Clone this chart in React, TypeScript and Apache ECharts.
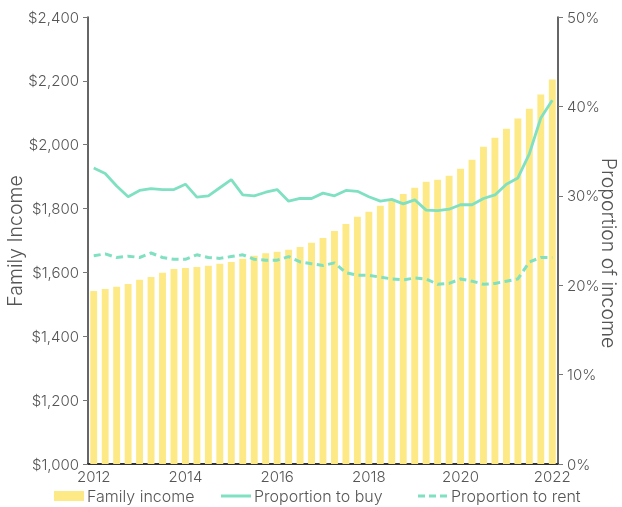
import React, { useEffect, useRef } from "react";
import * as echarts from "echarts";

const categories = [
  "2012 Q1", "2012 Q2", "2012 Q3", "2012 Q4",
  "2013 Q1", "2013 Q2", "2013 Q3", "2013 Q4",
  "2014 Q1", "2014 Q2", "2014 Q3", "2014 Q4",
  "2015 Q1", "2015 Q2", "2015 Q3", "2015 Q4",
  "2016 Q1", "2016 Q2", "2016 Q3", "2016 Q4",
  "2017 Q1", "2017 Q2", "2017 Q3", "2017 Q4",
  "2018 Q1", "2018 Q2", "2018 Q3", "2018 Q4",
  "2019 Q1", "2019 Q2", "2019 Q3", "2019 Q4",
  "2020 Q1", "2020 Q2", "2020 Q3", "2020 Q4",
  "2021 Q1", "2021 Q2", "2021 Q3", "2021 Q4",
  "2022 Q1",
];

const familyIncome = [
  1542, 1548, 1555, 1564, 1577, 1586, 1599, 1611, 1614, 1617,
  1621, 1627, 1633, 1643, 1652, 1660, 1665, 1671, 1680, 1693,
  1708, 1730, 1752, 1774, 1790, 1809, 1824, 1846, 1865, 1884,
  1890, 1903, 1925, 1953, 1994, 2022, 2050, 2082, 2113, 2157,
  2204,
];

const proportionToBuy = [
  33.1, 32.5, 31.1, 29.9, 30.6, 30.8, 30.7, 30.7, 31.3, 29.85,
  30.0, 30.9, 31.8, 30.1, 30.0, 30.4, 30.7, 29.4, 29.7, 29.7,
  30.3, 30.0, 30.6, 30.5, 29.9, 29.4, 29.6, 29.1, 29.55, 28.4,
  28.35, 28.5, 29.0, 29.0, 29.7, 30.1, 31.3, 32.0, 34.7, 38.7,
  40.7,
];

const proportionToRent = [
  23.3, 23.5, 23.1, 23.25, 23.1, 23.6, 23.1, 22.9, 22.9, 23.4,
  23.1, 23.0, 23.2, 23.4, 22.9, 22.8, 22.8, 23.2, 22.6, 22.4,
  22.2, 22.5, 21.4, 21.1, 21.1, 20.9, 20.7, 20.6, 20.8, 20.7,
  20.1, 20.2, 20.7, 20.45, 20.1, 20.2, 20.45, 20.7, 22.6, 23.1,
  23.1,
];

const FONT = "Inter";
const WEIGHT = 300;
const TEXT = "#555555";
const BAR = "#FDE985";
const LINE = "#7FE0C2";

// legend icons: invisible moveTo points fix the 30x10 box, filled bars form the line
const SOLID_ICON = "path://M0 0 M30 10 M0 3.5 H30 V6.5 H0 Z";
const DASHED_ICON =
  "path://M0 0 M30 10 M0 3.5 H7 V6.5 H0 Z M11 3.5 H18 V6.5 H11 Z M22 3.5 H29 V6.5 H22 Z";

export default function App() {
  const ref = useRef<HTMLDivElement>(null);
  useEffect(() => {
    if (!ref.current) return;
    const chart = echarts.init(ref.current, undefined, { renderer: "svg" });
    const label = {
      fontSize: 15,
      color: TEXT,
      fontFamily: FONT,
      fontWeight: WEIGHT,
    };
    const legendBase = {
      bottom: 3,
      itemWidth: 30,
      itemHeight: 10,
      padding: 0,
      textStyle: { ...label, fontSize: 16, padding: [0, 0, 0, -2] },
    };
    chart.setOption({
      animation: false,
      textStyle: { fontFamily: FONT, color: TEXT, fontWeight: WEIGHT },
      grid: { left: 88, right: 64, top: 17, bottom: 43 },
      legend: [
        { ...legendBase, left: 54, data: [{ name: "Family income", icon: "rect" }] },
        { ...legendBase, left: 221, data: [{ name: "Proportion to buy", icon: SOLID_ICON }] },
        { ...legendBase, left: 418, data: [{ name: "Proportion to rent", icon: DASHED_ICON }] },
      ],
      graphic: [
        {
          type: "text",
          x: 15,
          y: 241,
          rotation: Math.PI / 2,
          style: {
            text: "Family Income",
            font: `${WEIGHT} 19.5px ${FONT}`,
            fill: TEXT,
            align: "center",
            verticalAlign: "middle",
          },
        },
        {
          type: "text",
          x: 609,
          y: 253,
          rotation: -Math.PI / 2,
          style: {
            text: "Proportion of income",
            font: `${WEIGHT} 19.5px ${FONT}`,
            fill: TEXT,
            align: "center",
            verticalAlign: "middle",
          },
        },
      ],
      xAxis: {
        type: "category",
        data: categories,
        boundaryGap: true,
        axisLine: { lineStyle: { color: "#333", width: 2 } },
        axisTick: { show: false },
        axisLabel: {
          ...label,
          interval: 7,
          margin: 5,
          formatter: (v: string) => v.slice(0, 4),
        },
        splitLine: { show: false },
      },
      yAxis: [
        {
          type: "value",
          min: 1000,
          max: 2400,
          interval: 200,
          axisLine: { show: true, lineStyle: { color: "#333", width: 1.5 } },
          axisTick: { show: true, length: 5, lineStyle: { color: "#777" } },
          axisLabel: {
            ...label,
            margin: 9,
            formatter: (v: number) => "$" + v.toLocaleString("en-US"),
          },
          splitLine: { show: false },
        },
        {
          type: "value",
          min: 0,
          max: 50,
          interval: 10,
          position: "right",
          axisLine: { show: true, lineStyle: { color: "#333", width: 1.5 } },
          axisTick: { show: true, length: 5, lineStyle: { color: "#777" } },
          axisLabel: {
            ...label,
            margin: 9,
            formatter: "{value}%",
          },
          splitLine: { show: false },
        },
      ],
      series: [
        {
          name: "Family income",
          type: "bar",
          data: familyIncome,
          barWidth: "60%",
          itemStyle: { color: BAR },
          z: 1,
        },
        {
          name: "Proportion to buy",
          type: "line",
          yAxisIndex: 1,
          data: proportionToBuy,
          symbol: "none",
          lineStyle: { color: LINE, width: 2.8 },
          itemStyle: { color: LINE },
          z: 3,
        },
        {
          name: "Proportion to rent",
          type: "line",
          yAxisIndex: 1,
          data: proportionToRent,
          symbol: "none",
          lineStyle: { color: LINE, width: 3, type: [7, 4.5] },
          itemStyle: { color: LINE },
          z: 3,
        },
      ],
    });
    return () => chart.dispose();
  }, []);
  return (
    <div
      ref={ref}
      style={{ position: "fixed", left: 0, top: 0, width: 622, height: 507 }}
    />
  );
}
